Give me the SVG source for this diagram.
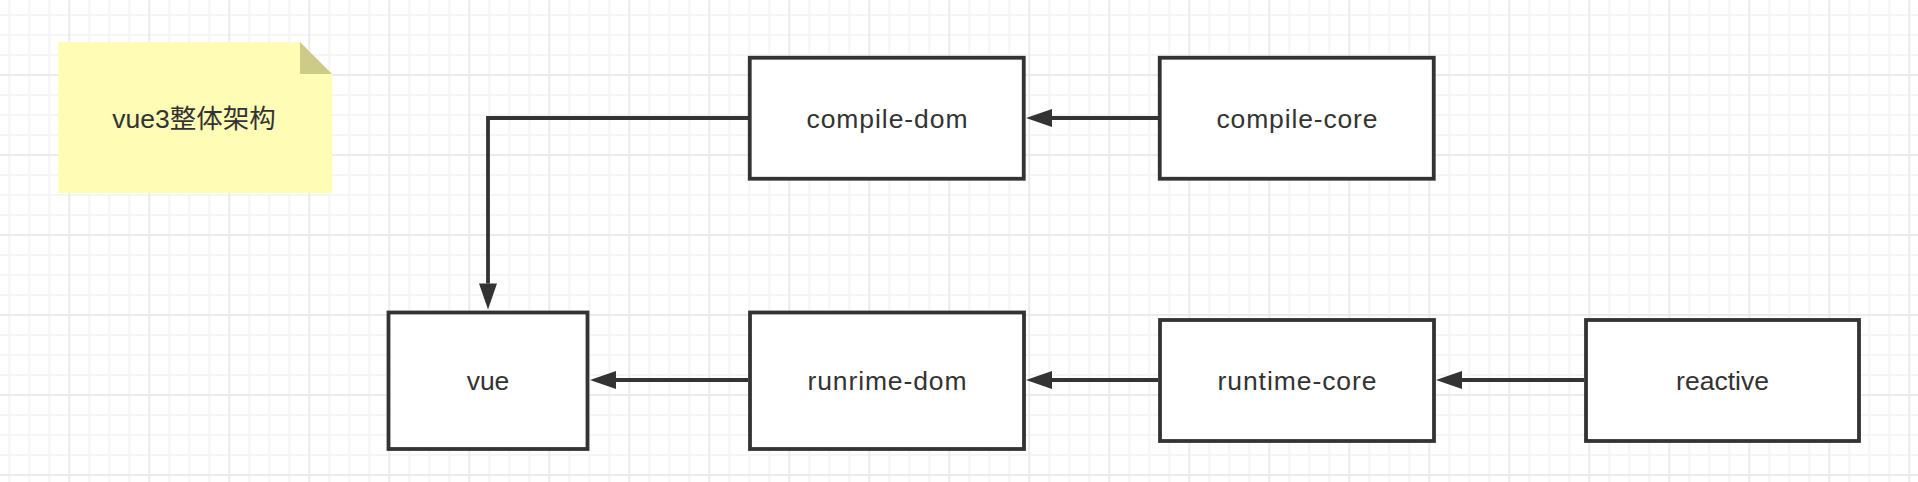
<svg xmlns="http://www.w3.org/2000/svg" width="1918" height="482" viewBox="0 0 1918 482">
  <style>
    .box { fill: #ffffff; stroke: #333333; stroke-width: 3.8; }
    .lbl { font-family: "Liberation Sans", Arial, "Noto Sans CJK SC", sans-serif; font-size: 26.5px; fill: #333333; text-anchor: middle; }
    .edge { fill: none; stroke: #333333; stroke-width: 3.8; }
  </style>
  <defs>
    <pattern id="grid" patternUnits="userSpaceOnUse" x="-10.7" y="-5" width="80" height="80">
      <rect x="19" y="0" width="2" height="80" fill="#f5f5f5"/>
      <rect x="39" y="0" width="2" height="80" fill="#f5f5f5"/>
      <rect x="59" y="0" width="2" height="80" fill="#f5f5f5"/>
      <rect x="0" y="19" width="80" height="2" fill="#f5f5f5"/>
      <rect x="0" y="39" width="80" height="2" fill="#f5f5f5"/>
      <rect x="0" y="59" width="80" height="2" fill="#f5f5f5"/>
      <rect x="0" y="0" width="1" height="80" fill="#ebebeb"/>
      <rect x="79" y="0" width="1" height="80" fill="#ebebeb"/>
      <rect x="0" y="0" width="80" height="1" fill="#ebebeb"/>
      <rect x="0" y="79" width="80" height="1" fill="#ebebeb"/>
    </pattern>
    <marker id="arrow" markerUnits="userSpaceOnUse" markerWidth="27" markerHeight="18" refX="0" refY="9" orient="auto" overflow="visible">
      <path d="M0,0 L26,9 L0,18 Z" fill="#333333"/>
    </marker>
  </defs>

  <rect x="0" y="0" width="1918" height="482" fill="#ffffff"/>
  <rect x="0" y="0" width="1918" height="482" fill="url(#grid)"/>

  <g id="note">
    <polygon points="58,42 300,42 332,74 332,193 58,193" fill="#fffcb6"/>
    <polygon points="300,42 300,74 332,74" fill="#cccb88"/>
    <text x="194" y="128" class="lbl" font-size="26">vue3整体架构</text>
  </g>

  <g id="connectors">
    <path class="edge" d="M1158,118 L1052,118" marker-end="url(#arrow)"/>
    <path class="edge" d="M748,118 L488,118 L488,283.5" marker-end="url(#arrow)"/>
    <path class="edge" d="M748,380 L616,380" marker-end="url(#arrow)"/>
    <path class="edge" d="M1158,380 L1052,380" marker-end="url(#arrow)"/>
    <path class="edge" d="M1584,380 L1462,380" marker-end="url(#arrow)"/>
  </g>

  <g id="compile-dom">
    <rect class="box" x="749.75" y="57.75" width="274" height="121"/>
    <text class="lbl" x="887" y="128" textLength="161" lengthAdjust="spacing">compile-dom</text>
  </g>
  <g id="compile-core">
    <rect class="box" x="1159.75" y="57.75" width="274" height="121"/>
    <text class="lbl" x="1297" y="128" textLength="161" lengthAdjust="spacing">compile-core</text>
  </g>
  <g id="vue">
    <rect class="box" x="388.5" y="312.5" width="199" height="136.5"/>
    <text class="lbl" x="488" y="390">vue</text>
  </g>
  <g id="runrime-dom">
    <rect class="box" x="750" y="312.5" width="274" height="136.5"/>
    <text class="lbl" x="887" y="390" textLength="159" lengthAdjust="spacing">runrime-dom</text>
  </g>
  <g id="runtime-core">
    <rect class="box" x="1160" y="320" width="274" height="121"/>
    <text class="lbl" x="1297" y="390" textLength="159" lengthAdjust="spacing">runtime-core</text>
  </g>
  <g id="reactive">
    <rect class="box" x="1586" y="320" width="273" height="121"/>
    <text class="lbl" x="1722.5" y="390">reactive</text>
  </g>
</svg>
